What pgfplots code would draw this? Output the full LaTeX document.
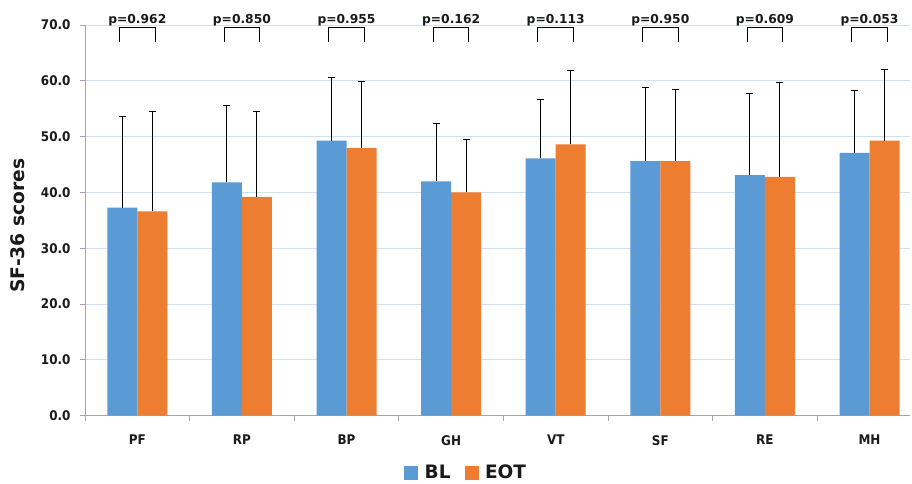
\documentclass[border=0pt]{standalone}
\usepackage{fontspec}
\setmainfont{DejaVu Sans}
\newfontfamily\cond{DejaVu Sans Condensed}
\usepackage{pgfplots}
\usepackage{pgfplotstable}
\pgfplotsset{compat=1.18}
\definecolor{blc}{HTML}{5B9BD5}
\definecolor{eotc}{HTML}{ED7D31}
\definecolor{gridc}{HTML}{CFE0F1}
\definecolor{axc}{HTML}{A6A6A6}
\definecolor{txt}{HTML}{1A1A1A}

\pgfplotstableread{
x y e
0 37.3 16.4
1 41.8 13.8
2 49.3 11.3
3 42.0 10.4
4 46.1 10.5
5 45.6 13.2
6 43.1 14.7
7 47.1 11.1
}\bltab

\pgfplotstableread{
x y e
0 36.6 18.0
1 39.2 15.4
2 48.0 11.9
3 40.0 9.5
4 48.6 13.2
5 45.6 12.9
6 42.8 16.9
7 49.3 12.8
}\eottab

\begin{document}
\begin{tikzpicture}
\path[use as bounding box] (-85pt,-67.3pt) rectangle (827pt,415.7pt);
\begin{axis}[
  scale only axis, width=825pt, height=390.7pt,
  at={(0,0)}, anchor=south west,
  clip=false,
  ybar=0pt, bar width=30pt,
  ymin=0, ymax=70, ytick={0,10,...,70},
  xmin=-0.5, xmax=7.387,
  xtick={0,...,7}, xticklabels={PF,RP,BP,GH,VT,SF,RE,MH},
  minor xtick={-0.5,0.5,...,6.5},
  axis x line*=bottom, axis y line*=left,
  axis line style={-, draw=axc, line width=0.9pt},
  tick align=outside,
  major tick length=5pt, minor tick length=5pt,
  xtick style={draw=none},
  minor x tick style={draw=axc, line width=0.9pt},
  ytick style={draw=axc, line width=0.9pt},
  ymajorgrids, grid style={draw=gridc, line width=0.9pt},
  /pgf/number format/assume math mode=true,
  yticklabel={\pgfmathprintnumber[fixed,fixed zerofill,precision=1]{\tick}},
  tick label style={font=\cond\fontsize{13.3}{15}\selectfont\bfseries, text=txt},
  yticklabel style={xshift=-6pt},
  xticklabel style={yshift=-11pt},
  every axis y label/.style={at={(axis description cs:-0.0818,0.487)},rotate=90,anchor=center},
  ylabel={\fontsize{18.7}{21}\selectfont\bfseries SF-36 scores},
  ylabel style={text=txt},
  legend style={at={(axis description cs:0.462,-0.1455)}, anchor=center, draw=none, fill=none,
    legend columns=2, font=\fontsize{18.5}{21}\selectfont\bfseries, text=txt,
    /tikz/every even column/.append style={column sep=12pt}},
  legend image code/.code={\fill[#1] (0pt,-7pt) rectangle (14pt,7pt); \path (18.5pt,0pt);},
  error bars/y dir=plus, error bars/y explicit,
  error bars/error bar style={black, line width=0.9pt},
  error bars/error mark options={rotate=90, black, mark size=3.5pt, line width=0.9pt},
]
\addplot[fill=blc, draw=none] table[x=x, y=y, y error=e]{\bltab};
\addlegendentry{BL}
\addplot[fill=eotc, draw=none] table[x=x, y=y, y error=e]{\eottab};
\addlegendentry{EOT}

\begin{scope}[line width=0.9pt, black]
\draw (axis cs:-0.17,66.9) -- (axis cs:-0.17,69.6) -- (axis cs:0.17,69.6) -- (axis cs:0.17,66.9);
\draw (axis cs:0.83,66.9) -- (axis cs:0.83,69.6) -- (axis cs:1.17,69.6) -- (axis cs:1.17,66.9);
\draw (axis cs:1.83,66.9) -- (axis cs:1.83,69.6) -- (axis cs:2.17,69.6) -- (axis cs:2.17,66.9);
\draw (axis cs:2.83,66.9) -- (axis cs:2.83,69.6) -- (axis cs:3.17,69.6) -- (axis cs:3.17,66.9);
\draw (axis cs:3.83,66.9) -- (axis cs:3.83,69.6) -- (axis cs:4.17,69.6) -- (axis cs:4.17,66.9);
\draw (axis cs:4.83,66.9) -- (axis cs:4.83,69.6) -- (axis cs:5.17,69.6) -- (axis cs:5.17,66.9);
\draw (axis cs:5.83,66.9) -- (axis cs:5.83,69.6) -- (axis cs:6.17,69.6) -- (axis cs:6.17,66.9);
\draw (axis cs:6.83,66.9) -- (axis cs:6.83,69.6) -- (axis cs:7.17,69.6) -- (axis cs:7.17,66.9);
\end{scope}
\begin{scope}[every node/.style={anchor=base, font=\fontsize{12.3}{15}\selectfont\bfseries, text=txt, inner sep=0pt}]
\node at (axis cs:0,70.25) {p=0.962};
\node at (axis cs:1,70.25) {p=0.850};
\node at (axis cs:2,70.25) {p=0.955};
\node at (axis cs:3,70.25) {p=0.162};
\node at (axis cs:4,70.25) {p=0.113};
\node at (axis cs:5,70.25) {p=0.950};
\node at (axis cs:6,70.25) {p=0.609};
\node at (axis cs:7,70.25) {p=0.053};
\end{scope}
\end{axis}
\end{tikzpicture}
\end{document}
